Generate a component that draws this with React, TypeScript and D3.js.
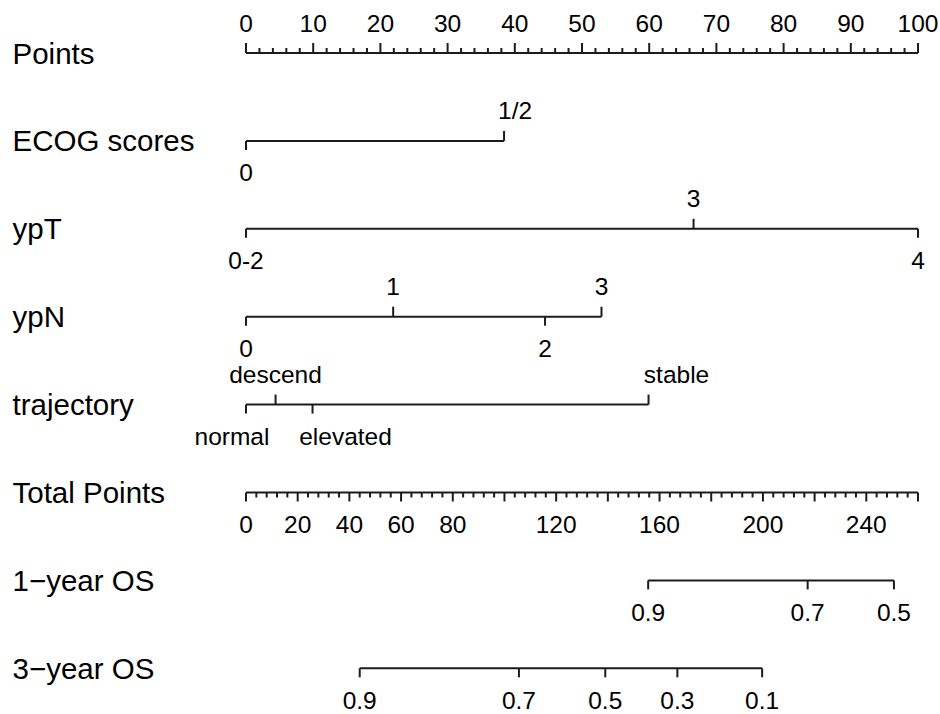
import React from "react";
import * as d3 from "d3";

// row titles, top to bottom
const rowNames = [
  "Points",
  "ECOG scores",
  "ypT",
  "ypN",
  "trajectory",
  "Total Points",
  "1−year OS",
  "3−year OS",
];

// points scale
const pointsTickLabels = [0, 10, 20, 30, 40, 50, 60, 70, 80, 90, 100];

// predictors: level names and their points
const ecogLevels = ["0", "1/2"];
const ecogPoints = [0, 38.4];
const ypTLevels = ["0-2", "3", "4"];
const ypTPoints = [0, 66.6, 100];
const ypNLevels = ["0", "1", "2", "3"];
const ypNPoints = [0, 21.9, 44.5, 52.9];
const trajectoryLevels = ["normal", "descend", "elevated", "stable"];
const trajectoryPoints = [0, 4.4, 9.9, 59.9];

// total points scale
const totalMax = 260;
const totalTickLabels = [0, 20, 40, 60, 80, 120, 160, 200, 240];

// survival probabilities and the total points they sit at
const os1Labels = ["0.9", "0.7", "0.5"];
const os1Total = [155.6, 217.3, 250.7];
const os3Labels = ["0.9", "0.7", "0.5", "0.3", "0.1"];
const os3Total = [44.0, 105.6, 139.0, 166.9, 199.7];

const W = 940;
const H = 714;
const left = 246;
const right = 918;
const top = 53;
const step = 87.9;
const ink = "#1c1c1c";
const font = "'Liberation Sans', Arial, Helvetica, sans-serif";
const titleSize = 29.5;
const tickSize = 24.5;

// small sideways shifts the original used to keep labels apart
const labelNudge: Record<string, number> = {
  "1/2": 11,
  normal: -14,
  elevated: 33,
  stable: 28,
};

const App = () => {
  const xPts = d3.scaleLinear().domain([0, 100]).range([left, right]);
  const xTot = d3.scaleLinear().domain([0, totalMax]).range([left, right]);
  const rowY = (i: number) => top + i * step;

  const predictors = [
    { levels: ecogLevels, pts: ecogPoints },
    { levels: ypTLevels, pts: ypTPoints },
    { levels: ypNLevels, pts: ypNPoints },
    { levels: trajectoryLevels, pts: trajectoryPoints },
  ];

  const ptsMinor = xPts.ticks(50);
  const totMinor = d3.range(0, totalMax + 1, 4);
  const totMajor = d3.range(0, totalMax + 1, 20);

  const y0 = rowY(0);
  const yTot = rowY(5);

  return (
    <svg
      width={W}
      height={H}
      style={{ position: "absolute", left: 0, top: 0, background: "#fff" }}
      fontFamily={font}
    >
      {rowNames.map((name, i) => (
        <text key={name} x={12.5} y={rowY(i) + 10.5} fontSize={titleSize} fill="#000">
          {name}
        </text>
      ))}

      {/* Points axis */}
      <g stroke={ink} strokeWidth={2} fill="none">
        <line x1={xPts(0)} x2={xPts(100)} y1={y0} y2={y0} />
        {ptsMinor.map((v) => (
          <line
            key={v}
            x1={xPts(v)}
            x2={xPts(v)}
            y1={y0}
            y2={y0 - (v % 10 === 0 ? 10 : 5)}
          />
        ))}
      </g>
      {pointsTickLabels.map((v) => (
        <text key={v} x={xPts(v)} y={y0 - 21} fontSize={tickSize} textAnchor="middle" fill="#000">
          {v}
        </text>
      ))}

      {/* predictor rows */}
      {predictors.map((p, r) => {
        const y = rowY(r + 1);
        const lo = d3.min(p.pts) as number;
        const hi = d3.max(p.pts) as number;
        return (
          <g key={r}>
            <line x1={xPts(lo)} x2={xPts(hi)} y1={y} y2={y} stroke={ink} strokeWidth={2} />
            {p.levels.map((lab, k) => {
              const above = k % 2 === 1;
              const x = xPts(p.pts[k]);
              return (
                <g key={lab}>
                  <line
                    x1={x}
                    x2={x}
                    y1={y}
                    y2={above ? y - 10 : y + 9}
                    stroke={ink}
                    strokeWidth={2}
                  />
                  <text
                    x={x + (labelNudge[lab] || 0)}
                    y={above ? y - 22 : y + 40}
                    fontSize={tickSize}
                    textAnchor="middle"
                    fill="#000"
                  >
                    {lab}
                  </text>
                </g>
              );
            })}
          </g>
        );
      })}

      {/* Total points axis */}
      <g stroke={ink} strokeWidth={2} fill="none">
        <line x1={xTot(0)} x2={xTot(totalMax)} y1={yTot} y2={yTot} />
        {totMinor.map((v) => (
          <line
            key={v}
            x1={xTot(v)}
            x2={xTot(v)}
            y1={yTot}
            y2={yTot + (totMajor.includes(v) ? 9 : 5)}
          />
        ))}
      </g>
      {totalTickLabels.map((v) => (
        <text key={v} x={xTot(v)} y={yTot + 40} fontSize={tickSize} textAnchor="middle" fill="#000">
          {v}
        </text>
      ))}

      {/* survival rows */}
      {[
        { labels: os1Labels, tot: os1Total },
        { labels: os3Labels, tot: os3Total },
      ].map((s, r) => {
        const y = rowY(6 + r);
        const lo = d3.min(s.tot) as number;
        const hi = d3.max(s.tot) as number;
        return (
          <g key={r}>
            <line x1={xTot(lo)} x2={xTot(hi)} y1={y} y2={y} stroke={ink} strokeWidth={2} />
            {s.labels.map((lab, k) => (
              <g key={lab}>
                <line
                  x1={xTot(s.tot[k])}
                  x2={xTot(s.tot[k])}
                  y1={y}
                  y2={y + 9}
                  stroke={ink}
                  strokeWidth={2}
                />
                <text x={xTot(s.tot[k])} y={y + 41} fontSize={tickSize} textAnchor="middle" fill="#000">
                  {lab}
                </text>
              </g>
            ))}
          </g>
        );
      })}
    </svg>
  );
};

export default App;
